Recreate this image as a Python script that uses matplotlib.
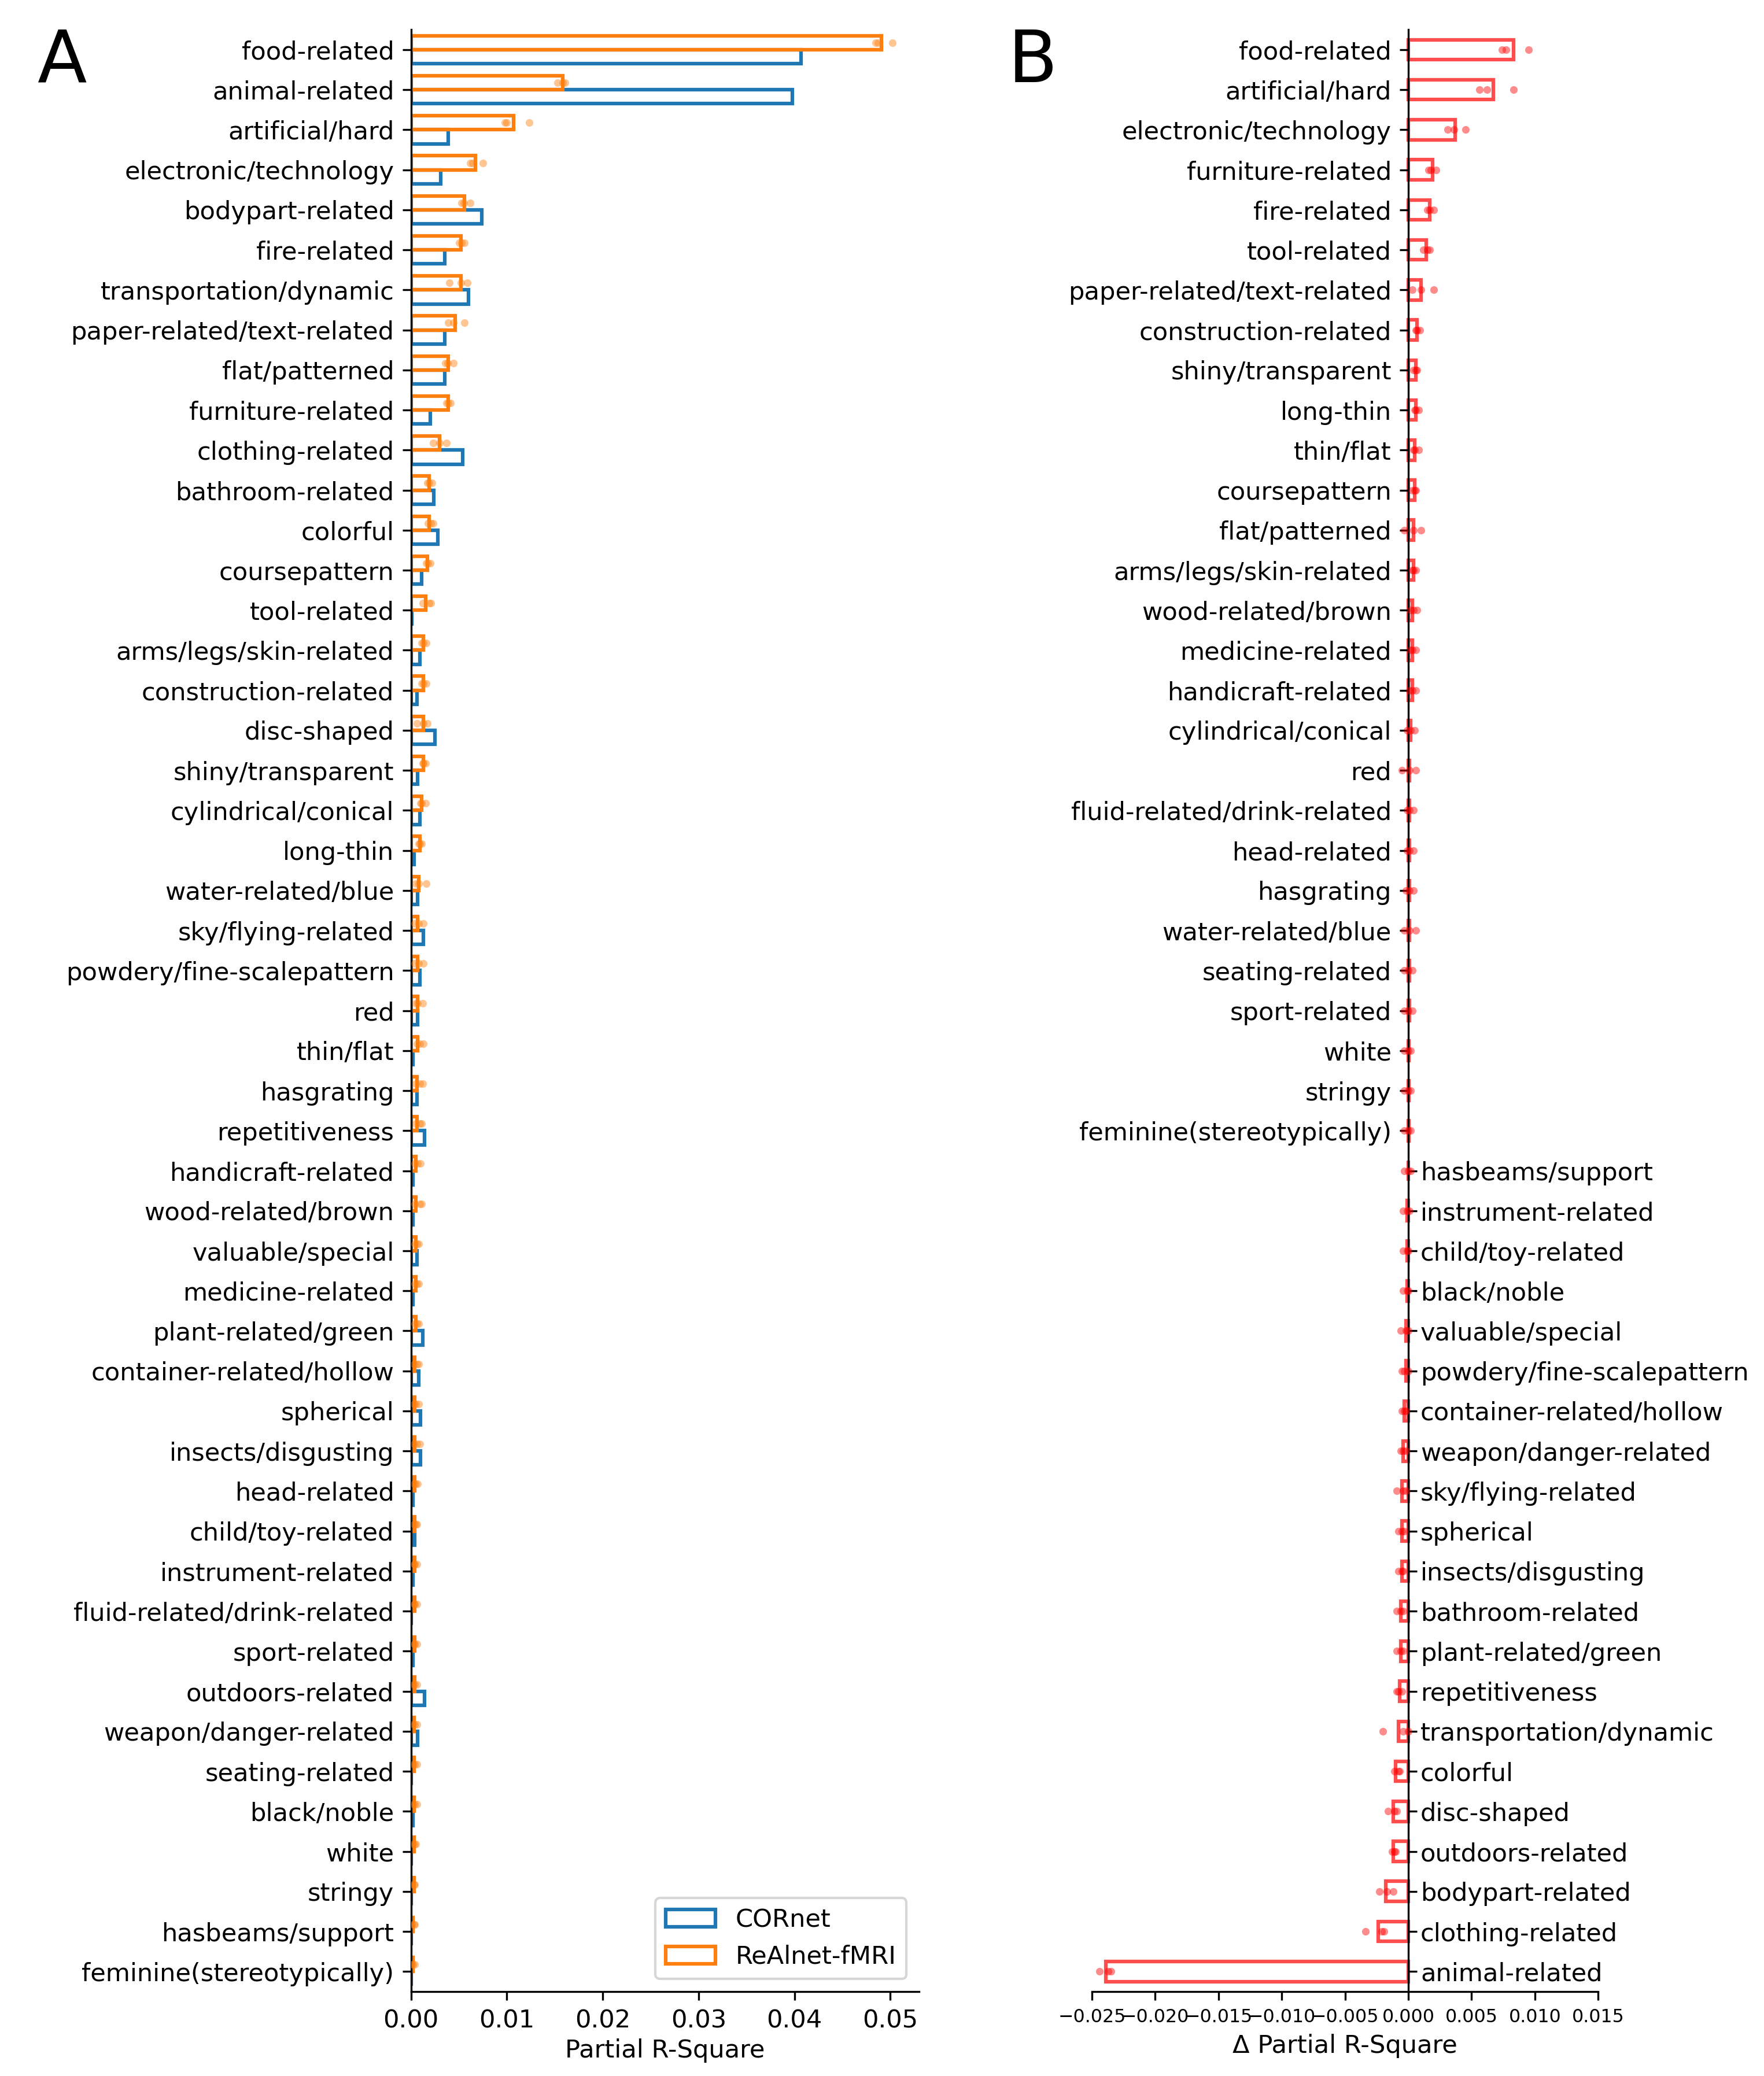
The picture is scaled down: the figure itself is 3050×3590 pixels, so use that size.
import numpy as np
import matplotlib
matplotlib.use('Agg')
import matplotlib.pyplot as plt

# ---- panel A data (ordered by ReAlnet-fMRI) ----
cats_a = ['food-related', 'animal-related', 'artificial/hard', 'electronic/technology',
          'bodypart-related', 'fire-related', 'transportation/dynamic',
          'paper-related/text-related', 'flat/patterned', 'furniture-related',
          'clothing-related', 'bathroom-related', 'colorful', 'coursepattern',
          'tool-related', 'arms/legs/skin-related', 'construction-related', 'disc-shaped',
          'shiny/transparent', 'cylindrical/conical', 'long-thin', 'water-related/blue',
          'sky/flying-related', 'powdery/fine-scalepattern', 'red', 'thin/flat',
          'hasgrating', 'repetitiveness', 'handicraft-related', 'wood-related/brown',
          'valuable/special', 'medicine-related', 'plant-related/green',
          'container-related/hollow', 'spherical', 'insects/disgusting', 'head-related',
          'child/toy-related', 'instrument-related', 'fluid-related/drink-related',
          'sport-related', 'outdoors-related', 'weapon/danger-related', 'seating-related',
          'black/noble', 'white', 'stringy', 'hasbeams/support', 'feminine(stereotypically)']

realnet = [0.0491, 0.0158, 0.0107, 0.0067, 0.0056, 0.0052, 0.0052, 0.0046, 0.0039, 0.0039,
           0.0030, 0.0019, 0.0019, 0.0017, 0.0015, 0.0013, 0.0013, 0.0013, 0.0013, 0.0011,
           0.0009, 0.0008, 0.0007, 0.0007, 0.0007, 0.0007, 0.0006, 0.0006, 0.0005, 0.0005,
           0.0005, 0.0005, 0.0005, 0.0004, 0.0004, 0.0004, 0.0004, 0.0004, 0.0004, 0.0004,
           0.0004, 0.0004, 0.0003, 0.0003, 0.0003, 0.0003, 0.0003, 0.0002, 0.0002]

cornet = [0.0407, 0.0398, 0.0039, 0.0031, 0.0074, 0.0035, 0.0060, 0.0035, 0.0035, 0.0020,
          0.0054, 0.0024, 0.0028, 0.0011, 0.0001, 0.0009, 0.0006, 0.0025, 0.0007, 0.0009,
          0.0003, 0.0007, 0.0013, 0.0009, 0.0007, 0.0002, 0.0006, 0.0014, 0.0002, 0.0002,
          0.0006, 0.0002, 0.0012, 0.0008, 0.0010, 0.0010, 0.0002, 0.0004, 0.0002, 0.0000,
          0.0002, 0.0014, 0.0007, 0.0000, 0.0002, 0.0000, 0.0000, 0.0000, 0.0000]

realnet_pts = [
    [0.0485, 0.0487, 0.0502], [0.0153, 0.0158, 0.0161], [0.0098, 0.0100, 0.0123],
    [0.0062, 0.0064, 0.0075], [0.0053, 0.0055, 0.0062], [0.0050, 0.0053, 0.0056],
    [0.0040, 0.0052, 0.0059], [0.0039, 0.0044, 0.0056], [0.0036, 0.0038, 0.0044],
    [0.0037, 0.0039, 0.0041], [0.0023, 0.0030, 0.0037], [0.0017, 0.0019, 0.0022],
    [0.0018, 0.0021, 0.0023], [0.0016, 0.0018, 0.0020], [0.0012, 0.0019, 0.0021],
    [0.0011, 0.0013, 0.0016], [0.0011, 0.0013, 0.0016], [0.0006, 0.0013, 0.0017],
    [0.0012, 0.0013, 0.0015], [0.0010, 0.0011, 0.0015], [0.0008, 0.0009, 0.0011],
    [0.0005, 0.0008, 0.0016], [0.0004, 0.0008, 0.0013], [0.0004, 0.0008, 0.0013],
    [0.0005, 0.0007, 0.0012], [0.0006, 0.0009, 0.0013], [0.0005, 0.0009, 0.0012],
    [0.0005, 0.0009, 0.0011], [0.0004, 0.0007, 0.0010], [0.0004, 0.0009, 0.0011],
    [0.0004, 0.0006, 0.0008], [0.0004, 0.0006, 0.0008], [0.0004, 0.0006, 0.0008],
    [0.0003, 0.0006, 0.0008], [0.0003, 0.0005, 0.0008], [0.0003, 0.0006, 0.0009],
    [0.0003, 0.0005, 0.0007], [0.0003, 0.0005, 0.0006], [0.0003, 0.0004, 0.0006],
    [0.0003, 0.0004, 0.0006], [0.0003, 0.0004, 0.0006], [0.0002, 0.0004, 0.0006],
    [0.0002, 0.0004, 0.0006], [0.0002, 0.0004, 0.0006], [0.0002, 0.0004, 0.0006],
    [0.0002, 0.0004, 0.0005], [0.0001, 0.0003, 0.0004], [0.0001, 0.0003, 0.0004],
    [0.0001, 0.0002, 0.0004]]

# ---- panel B data (ReAlnet-fMRI minus CORnet, sorted) ----
cats_b = ['food-related', 'artificial/hard', 'electronic/technology', 'furniture-related',
          'fire-related', 'tool-related', 'paper-related/text-related', 'construction-related',
          'shiny/transparent', 'long-thin', 'thin/flat', 'coursepattern', 'flat/patterned',
          'arms/legs/skin-related', 'wood-related/brown', 'medicine-related',
          'handicraft-related', 'cylindrical/conical', 'red', 'fluid-related/drink-related',
          'head-related', 'hasgrating', 'water-related/blue', 'seating-related',
          'sport-related', 'white', 'stringy', 'feminine(stereotypically)',
          'hasbeams/support', 'instrument-related', 'child/toy-related', 'black/noble',
          'valuable/special', 'powdery/fine-scalepattern', 'container-related/hollow',
          'weapon/danger-related', 'sky/flying-related', 'spherical', 'insects/disgusting',
          'bathroom-related', 'plant-related/green', 'repetitiveness',
          'transportation/dynamic', 'colorful', 'disc-shaped', 'outdoors-related',
          'bodypart-related', 'clothing-related', 'animal-related']

delta = [0.0083, 0.0067, 0.0037, 0.0019, 0.0017, 0.0014, 0.0010, 0.0007, 0.0006, 0.0006,
         0.0005, 0.0005, 0.0004, 0.0004, 0.0003, 0.0003, 0.0003, 0.0002, 0.0001, 0.0001,
         0.0001, 0.0001, 0.0001, 0.0001, 0.0001, 0.00005, 0.00005, 0.00003,
         -0.00002, -0.0001, -0.0001, -0.0001, -0.0002, -0.0002, -0.0003, -0.0004,
         -0.0005, -0.0005, -0.0005, -0.0006, -0.0006, -0.0007, -0.0008, -0.0010,
         -0.0012, -0.0012, -0.0018, -0.0024, -0.0239]

delta_pts = [
    [0.0074, 0.0077, 0.0095], [0.0056, 0.0062, 0.0083], [0.0031, 0.0036, 0.0045],
    [0.0016, 0.0018, 0.0022], [0.0015, 0.0017, 0.0020], [0.0012, 0.0015, 0.0017],
    [0.0003, 0.0010, 0.0020], [0.0006, 0.0007, 0.0009], [0.0004, 0.0006, 0.0007],
    [0.0005, 0.0006, 0.0008], [0.0004, 0.0005, 0.0008], [0.0003, 0.0005, 0.0006],
    [-0.0003, 0.0004, 0.0010], [0.0003, 0.0004, 0.0006], [0.0002, 0.0004, 0.0007],
    [0.0002, 0.0003, 0.0006], [0.0001, 0.0003, 0.0006], [-0.0001, 0.0002, 0.0005],
    [-0.0005, 0.0001, 0.0006], [-0.0001, 0.0001, 0.0004], [-0.0001, 0.0001, 0.0004],
    [-0.0002, 0.0001, 0.0004], [-0.0003, 0.0001, 0.0006], [-0.0003, 0.0000, 0.0003],
    [-0.0003, 0.0000, 0.0003], [-0.0003, 0.0000, 0.0002], [-0.0003, 0.0000, 0.0002],
    [-0.0003, 0.0000, 0.0002], [-0.0003, 0.0000, 0.0002], [-0.0004, -0.0001, 0.0001],
    [-0.0004, -0.0001, 0.0000], [-0.0004, -0.0001, 0.0000], [-0.0006, -0.0002, 0.0000],
    [-0.0005, -0.0003, 0.0000], [-0.0005, -0.0003, -0.0002], [-0.0006, -0.0004, -0.0002],
    [-0.0009, -0.0004, -0.0002], [-0.0008, -0.0005, -0.0003], [-0.0008, -0.0005, -0.0004],
    [-0.0009, -0.0006, -0.0004], [-0.0009, -0.0006, -0.0004], [-0.0009, -0.0008, -0.0005],
    [-0.0020, -0.0004, 0.0000], [-0.0011, -0.0008, -0.0007], [-0.0016, -0.0011, -0.0009],
    [-0.0013, -0.0011, -0.0010], [-0.0023, -0.0017, -0.0012], [-0.0034, -0.0021, -0.0019],
    [-0.0244, -0.0237, -0.0235]]

xticks_a = [0.00, 0.01, 0.02, 0.03, 0.04, 0.05]
xticks_b = [-0.025, -0.020, -0.015, -0.010, -0.005, 0.000, 0.005, 0.010, 0.015]

plt.rcParams['font.size'] = 10.4

fig = plt.figure(figsize=(3050 / 300, 3590 / 300), dpi=300)
ax1 = fig.add_axes([0.233, 0.0407, 0.288, 0.945])
ax2 = fig.add_axes([0.619, 0.0407, 0.287, 0.945])

# panel A
n = len(cats_a)
ypos = np.arange(n)[::-1]
ax1.barh(ypos - 0.175, cornet, height=0.35, facecolor='none', edgecolor='#1f77b4',
         linewidth=1.5, label='CORnet')
ax1.barh(ypos + 0.175, realnet, height=0.35, facecolor='none', edgecolor='#ff7f0e',
         linewidth=1.5, label='ReAlnet-fMRI')
for y, pts in zip(ypos, realnet_pts):
    ax1.scatter(pts, [y + 0.175] * len(pts), s=10, color='#ff7f0e', alpha=0.45,
                linewidths=0, zorder=3)
ax1.set_yticks(ypos, cats_a)
ax1.set_xticks(xticks_a)
ax1.set_xlim(0, 0.053)
ax1.set_ylim(-0.5, n - 0.5)
ax1.set_xlabel('Partial R-Square', labelpad=2.5)
ax1.spines['top'].set_visible(False)
ax1.spines['right'].set_visible(False)
ax1.legend(loc='lower right')

# panel B
nb = len(cats_b)
yb = np.arange(nb)[::-1]
delta_arr = np.array(delta)
ax2.barh(yb, delta, height=0.5, facecolor='none', edgecolor=(1, 0, 0, 0.7), linewidth=1.5)
for y, pts in zip(yb, delta_pts):
    ax2.scatter(pts, [y] * len(pts), s=10, color='red', alpha=0.45, linewidths=0, zorder=3)

# move the spine first, it rebuilds the ticks
ax2.spines['left'].set_position(('data', 0))
ax2.spines['top'].set_visible(False)
ax2.spines['right'].set_visible(False)
ax2.set_xlim(-0.025, 0.015)
ax2.set_ylim(-0.5, nb - 0.5)
ax2.set_xticks(xticks_b)
ax2.tick_params(axis='x', labelsize=7.6)
ax2.set_xlabel('Δ Partial R-Square', labelpad=3)

left_mask = delta_arr >= 0
ax2.set_yticks(yb[left_mask], [c for c, m in zip(cats_b, left_mask) if m])
ax2.tick_params(axis='y', which='minor', direction='in', length=3.5, width=0.8, pad=-5)
ax2.set_yticks(yb[~left_mask], [c for c, m in zip(cats_b, left_mask) if not m],
               minor=True, ha='left')

fig.text(64 / 3050, 1 - 142 / 3590, 'A', fontsize=30, va='baseline')
fig.text(1743 / 3050, 1 - 142 / 3590, 'B', fontsize=30, va='baseline')

fig.savefig('out.png', dpi=300)
